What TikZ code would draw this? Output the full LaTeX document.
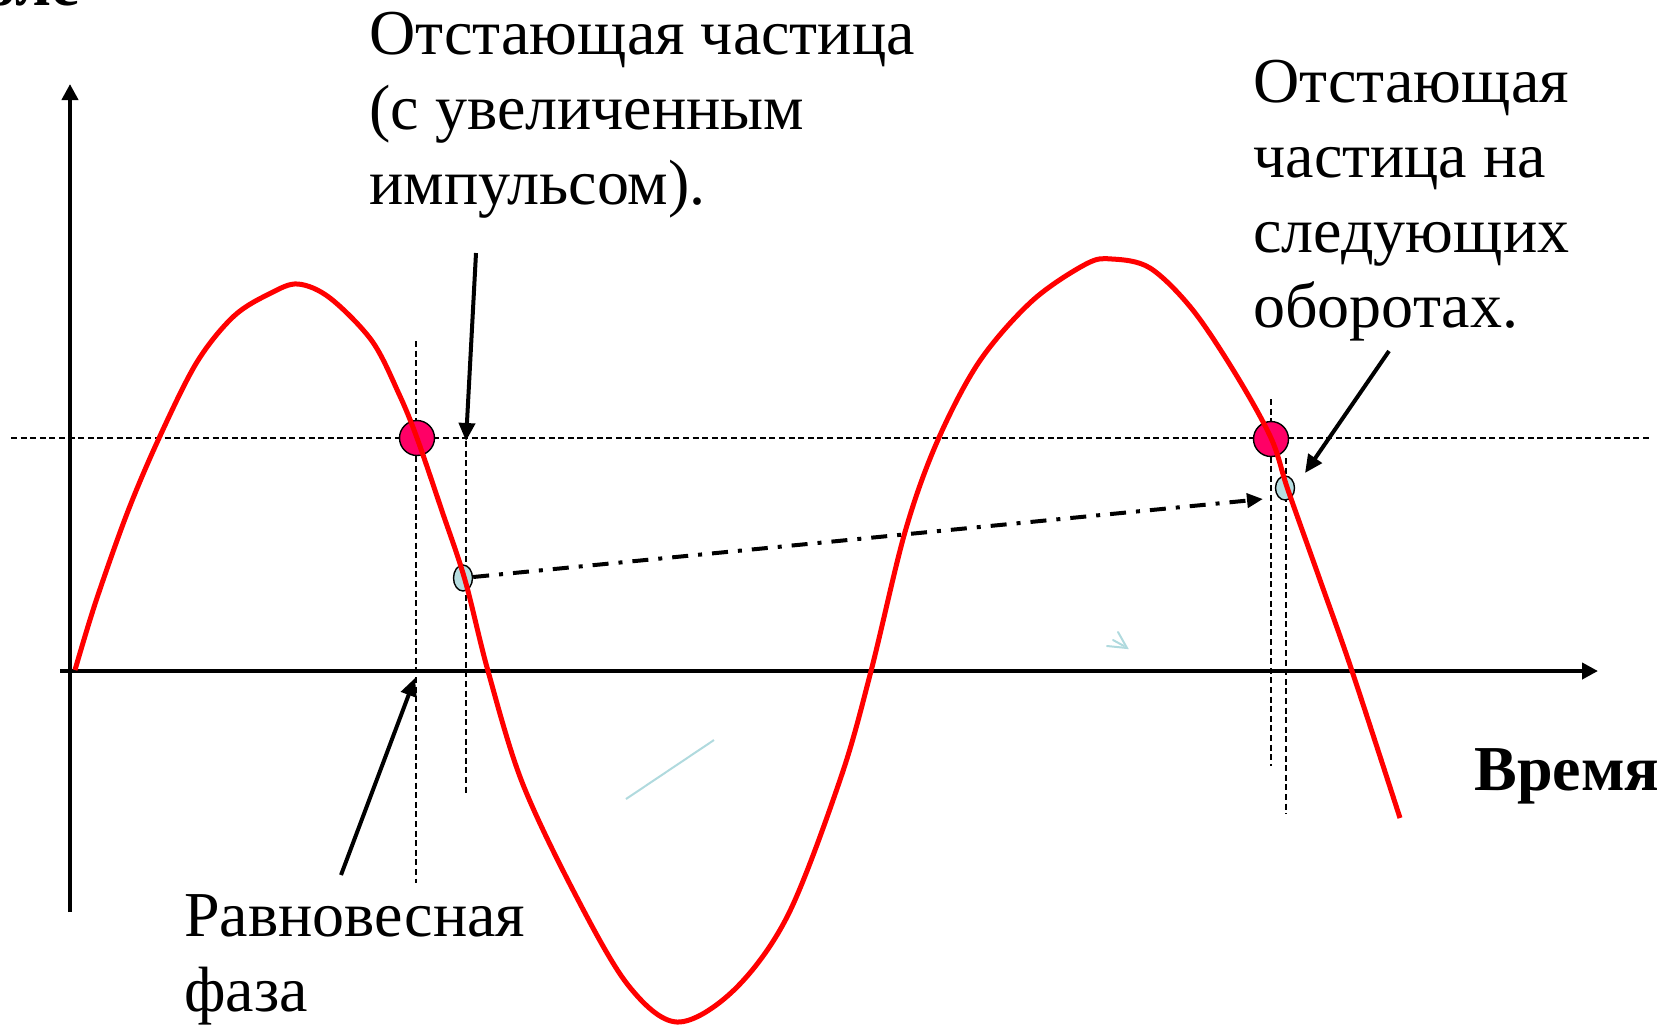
\documentclass[tikz,border=0pt]{standalone}
\usepackage{fontspec}
\setmainfont{Liberation Serif}
\usetikzlibrary{shapes.geometric, arrows.meta, positioning}

\definecolor{eqred}{RGB}{255,0,102}
\definecolor{lagblue}{RGB}{183,221,224}
\definecolor{faint}{RGB}{176,218,222}

\begin{document}
\begin{tikzpicture}[
    x=0.5pt, y=-0.5pt,
    txt/.style={font=\fontsize{32}{37.5}\selectfont, align=left, inner sep=0, anchor=base west},
    guide/.style={line width=0.8pt, dash pattern=on 3pt off 1.8pt},
    axis/.style={line width=2pt, -{Triangle[length=8pt, width=8pt]}},
    pointer/.style={line width=2pt, -{Triangle[length=9pt, width=8pt]}},
    eqdot/.style={circle, draw=black, line width=0.7pt, fill=eqred, minimum size=17.5pt, inner sep=0},
    lagdot/.style={ellipse, draw=black, line width=0.7pt, fill=lagblue, minimum width=9.5pt, minimum height=13pt, inner sep=0}
]
    \useasboundingbox (0,0) rectangle (1669,1025);

    % Axes
    \draw[axis] (70,912) -- (70,84);
    \draw[axis] (60,671) -- (1598,671);

    % Guide lines
    \draw[guide] (11,438) -- (1650,438);
    \draw[guide] (416,341) -- (416,883);
    \draw[guide] (466,441) -- (466,793);
    \draw[guide] (1271,399) -- (1271,766);
    \draw[guide] (1286,458) -- (1286,814);

    % Particles
    \node[eqdot] (eq1) at (417,438) {};
    \node[eqdot] (eq2) at (1271,439) {};
    \node[lagdot] (lag1) at (463,578) {};
    \node[lagdot, minimum height=12pt] (lag2) at (1285,488) {};

    % Accelerating field
    \draw[red, line width=2.5pt, line join=round] plot[smooth, tension=0.55] coordinates {
        (75,670) (96,601) (128,511) (160,436) (197,362) (234,316) (271,293) (298,284)
        (330,298) (372,341) (399,394) (417,438) (442,511) (465,580) (488,671)
        (522,782) (575,894) (628,985) (677,1022) (734,990) (788,915) (841,777)
        (871,671) (905,532) (937,442) (979,362) (1032,301) (1086,264) (1112,259)
        (1150,268) (1192,309) (1235,373) (1271,438) (1288,490) (1320,580)
        (1352,671) (1400,818)};

    % Labels
    \node[txt] (lagtext) at (369,204) {Отстающая частица\\(с увеличенным\\импульсом).};
    \node[txt] (nexttext) at (1253,327) {Отстающая\\частица на\\следующих\\оборотах.};
    \node[txt] (eqtext) at (184,1011) {Равновесная\\фаза};
    \node[txt, font=\fontsize{32}{37.5}\selectfont\bfseries] (timelabel) at (1474,790) {Время};
    \node[txt, font=\fontsize{32}{37.5}\selectfont\bfseries, anchor=base east] (fieldlabel) at (80,5) {Поле};

    % Pointers
    \coordinate (lagfrom) at (476,253);
    \coordinate (lagto) at (466,441);
    \coordinate (eqfrom) at (341,875);
    \coordinate (eqto) at (415,678);
    \coordinate (nextfrom) at (1389,351);
    \coordinate (nextto) at (1305,473);
    \coordinate (turnend) at (1263,499);
    \draw[pointer] (lagfrom) -- (lagto);
    \draw[pointer] (eqfrom) -- (eqto);
    \draw[pointer] (nextfrom) -- (nextto);
    \draw[line width=2pt, dash pattern=on 8pt off 5pt on 2pt off 5pt, -{Triangle[length=8pt, width=7pt]}] (lag1) -- (turnend);

    % Stray strokes
    \draw[faint, line width=1pt] (626,799) -- (714,740);
    \draw[faint, line width=1pt, line cap=round] (1118,632) -- (1127,648) -- (1107,646);
    \draw[faint, line width=1pt, line cap=round] (1113,640) -- (1124,646);
\end{tikzpicture}
\end{document}
